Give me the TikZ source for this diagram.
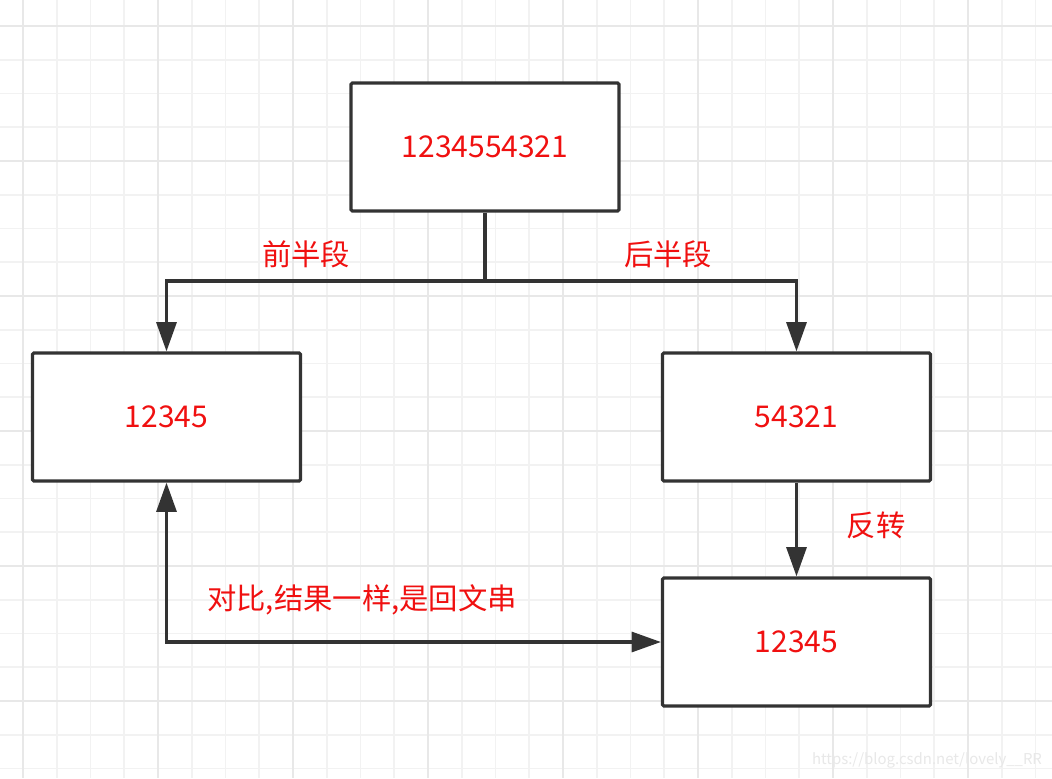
\documentclass[tikz,border=0pt]{standalone}
\usepackage{fontspec}
\setmainfont{Noto Sans CJK SC}
\usetikzlibrary{arrows.meta}
\definecolor{boxline}{HTML}{333333}
\definecolor{txtred}{HTML}{F01010}
\definecolor{gridminor}{HTML}{F2F2F2}
\definecolor{gridmajor}{HTML}{E8E8E8}
\begin{document}
\begin{tikzpicture}[x=0.75pt,y=-0.75pt,
  boxnode/.style={draw=boxline,line width=2.4pt,fill=white,minimum width=268*0.75pt,minimum height=128*0.75pt,inner sep=0pt,rounded corners=1pt,font=\fontsize{22.5}{26}\selectfont,text=txtred},
  lbl/.style={font=\fontsize{22}{26}\selectfont,text=txtred,inner sep=0pt},
  conn/.style={draw=boxline,line width=2.4pt},
  tipshape/.tip={Triangle[length=22pt,width=15pt]},
  tip/.style={-tipshape}]
\useasboundingbox (0,0) rectangle (1052,778);
\fill[white] (0,0) rectangle (1052,778);
% grid
\foreach \i in {-1,...,31} {
  \pgfmathsetmacro{\gx}{23+33.75*\i}
  \draw[gridminor,line width=1.2pt] (\gx,0) -- (\gx,778);
}
\foreach \i in {-1,...,23} {
  \pgfmathsetmacro{\gy}{26+33.75*\i}
  \draw[gridminor,line width=1.2pt] (0,\gy) -- (1052,\gy);
}
\foreach \i in {0,...,7} {
  \pgfmathsetmacro{\gx}{23+135*\i}
  \draw[gridmajor,line width=1.2pt] (\gx,0) -- (\gx,778);
}
\foreach \i in {0,...,5} {
  \pgfmathsetmacro{\gy}{26+135*\i}
  \draw[gridmajor,line width=1.2pt] (0,\gy) -- (1052,\gy);
}
% boxes
\node[boxnode] (top) at (485,147) {1234554321};
\node[boxnode] (left) at (166.5,417) {12345};
\node[boxnode] (right) at (796.5,417) {54321};
\node[boxnode] (bot) at (796.5,642) {12345};
\coordinate (split) at (485,281);
% connectors
\draw[conn] (top.south) -- (split);
\draw[conn,tip] (split) -| (left.north);
\draw[conn,tip] (split) -| (right.north);
\draw[conn,tip] (right.south) -- (bot.north);
\draw[conn,tipshape-tipshape] (left.south) |- (bot.west);
% labels
\node[lbl] (l1) at (306,254) {前半段};
\node[lbl] (l2) at (668,254) {后半段};
\node[lbl] (l3) at (876,525) {反转};
\node[lbl] (l4) at (362,600) {对比,结果一样,是回文串};
\node[font=\fontsize{11.2}{13}\selectfont,text=black!9,inner sep=0pt] (wm) at (927,760) {https://blog.csdn.net/lovely\_\_RR};
\end{tikzpicture}
\end{document}
